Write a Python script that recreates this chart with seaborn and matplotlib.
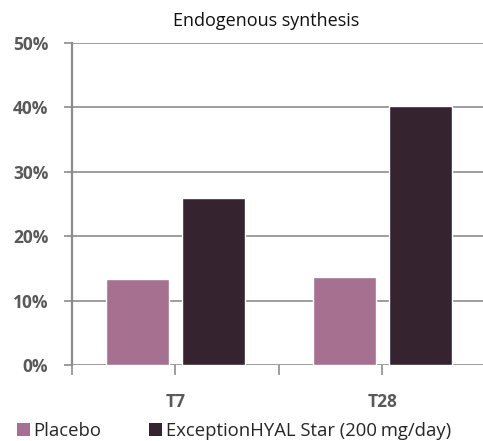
import matplotlib
matplotlib.use("Agg")
import matplotlib.pyplot as plt
from matplotlib.patches import Patch
import pandas as pd
import seaborn as sns

# Values
timepoints = ["T7", "T28"]
groups = ["Placebo", "ExceptionHYAL Star (200\u202fmg/day)"]
placebo = [13.3, 13.7]
hyal = [26.0, 40.2]
yticks = [0, 10, 20, 30, 40, 50]
colors = ["#A67090", "#352430"]

df = pd.DataFrame({
    "time": timepoints * 2,
    "group": [groups[0]] * 2 + [groups[1]] * 2,
    "value": placebo + hyal,
})

sns.set_theme(style="white")
plt.rcParams["font.family"] = ["Open Sans", "DejaVu Sans"]

fig = plt.figure(figsize=(4.83, 4.41), dpi=100)
ax = fig.add_axes([0.149, 0.172, 0.857, 0.731])

sns.barplot(data=df, x="time", y="value", hue="group", palette=colors,
            width=0.74, gap=0.18, ax=ax, legend=False, saturation=1)

grid_c = "#8c8c8c"
lab_c = "#595959"
ax.set_ylim(0, 50)
ax.set_xlim(-0.5, 1.5)
ax.set_yticks(yticks, [f"{v}%" for v in yticks], fontweight="bold",
              fontsize=12.5, color=lab_c)
ax.set_xticks([0, 1], timepoints, fontweight="bold", fontsize=12.5,
              color=lab_c)
ax.set_xticks([-0.5, 0.5], minor=True)
ax.grid(axis="y", color=grid_c, linewidth=1.2)
ax.set_axisbelow(True)

for s in ["top", "right", "bottom"]:
    ax.spines[s].set_visible(False)
ax.spines["left"].set_color(grid_c)
ax.spines["left"].set_linewidth(1.6)

ax.tick_params(axis="x", which="both", bottom=True, length=7, width=1.2,
               color=grid_c, pad=13)
ax.tick_params(axis="y", left=True, length=6, width=1.2, color=grid_c,
               pad=11)

ax.set_xlabel("")
ax.set_ylabel("")
ax.set_title("Endogenous synthesis", fontsize=13, color="#111111", pad=12,
             x=0.47)

handles = [Patch(facecolor=c, edgecolor="none") for c in colors]
fig.legend(handles, groups, loc="lower left", bbox_to_anchor=(0.0, -0.035),
           ncol=2, frameon=False, fontsize=13.3, handlelength=0.7,
           handleheight=0.7, handletextpad=0.2, columnspacing=2.6)

fig.savefig("out.png", dpi=100)
